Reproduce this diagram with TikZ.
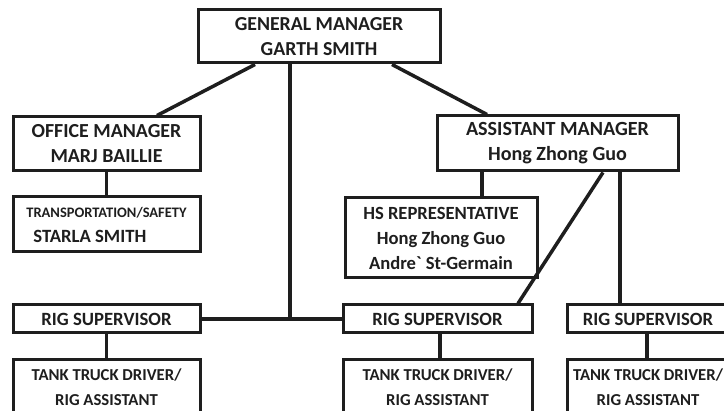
\documentclass[tikz,border=0pt]{standalone}
\usepackage{fontspec}
\setmainfont{Carlito}
\usetikzlibrary{calc}
\definecolor{ink}{HTML}{1E1E1E}
\newcommand{\fsz}[1]{\bfseries\fontsize{#1}{25}\selectfont}
\begin{document}
\begin{tikzpicture}[x=1pt,y=-1pt,
  box/.style={draw=ink, line width=3pt, inner sep=0pt, align=center, text=ink,
    font=\fsz{20}},
  link/.style={draw=ink, line width=3.5pt}]
\fill[white] (0,0) rectangle (724,411);
\useasboundingbox (0,0) rectangle (724,411);
% boxes
\node[box, minimum width=242pt, minimum height=53pt, font=\fsz{19.8}] (gm) at (319,36.5) {GENERAL MANAGER\\GARTH SMITH};
\node[box, minimum width=187pt, minimum height=54pt, font=\fsz{19.9}] (om) at (106.5,144) {OFFICE MANAGER\\MARJ BAILLIE};
\node[box, minimum width=187pt, minimum height=55pt, align=left, font=\fsz{14.5}] (ts) at (106.5,224.5) {TRANSPORTATION/SAFETY\\\hspace*{7pt}{\fsz{18.7}STARLA SMITH}};
\node[box, minimum width=241pt, minimum height=55pt, font=\fsz{20.1}] (am) at (557.5,143.5) {ASSISTANT MANAGER\\Hong Zhong Guo};
\node[box, minimum width=192pt, minimum height=80pt, font=\fsz{18.6}] (hs) at (441,238) {HS REPRESENTATIVE\\Hong Zhong Guo\\Andre\textasciigrave{} St-Germain};
\node[box, minimum width=187pt, minimum height=28pt, font=\fsz{18.7}] (rs1) at (106.5,319) {RIG SUPERVISOR};
\node[box, minimum width=189pt, minimum height=28pt, font=\fsz{18.7}] (rs2) at (437.5,319) {RIG SUPERVISOR};
\node[box, minimum width=162pt, minimum height=28pt, font=\fsz{18.7}] (rs3) at (648,319) {RIG SUPERVISOR};
\node[box, minimum width=187pt, minimum height=55pt, anchor=north, font=\fsz{16.7}] (t1) at (106.5,358) {TANK TRUCK DRIVER/\\RIG ASSISTANT};
\node[box, minimum width=189pt, minimum height=55pt, anchor=north, font=\fsz{16.7}] (t2) at (437.5,358) {TANK TRUCK DRIVER/\\RIG ASSISTANT};
\node[box, minimum width=162pt, minimum height=55pt, anchor=north, font=\fsz{16.7}] (t3) at (648,358) {TANK TRUCK DRIVER/\\RIG ASSISTANT};
% connectors
\draw[link] ([xshift=-64pt]gm.south) -- ([xshift=50.5pt]om.north);
\draw[link] ([xshift=73pt]gm.south) -- ([xshift=-70.5pt]am.north);
\draw[link] (rs1.east) -- (rs2.west);
\draw[link] ([xshift=-29pt]gm.south) -- ([xshift=-29pt]gm.south |- rs1.east);
\draw[link] (om.south) -- (ts.north);
\draw[link] ([xshift=-75.5pt]am.south) -- ([xshift=-75.5pt]am.south |- hs.north);
\draw[link] ([xshift=45.5pt]am.south) -- ([xshift=80.5pt]rs2.north);
\draw[link] ([xshift=62.5pt]am.south) -- ([xshift=62.5pt]am.south |- rs3.north);
\draw[link] (rs1.south) -- (t1.north);
\draw[link] ([xshift=2.5pt]rs2.south) -- ([xshift=2.5pt]rs2.south |- t2.north);
\draw[link] ([xshift=-1pt]rs3.south) -- ([xshift=-1pt]rs3.south |- t3.north);
\end{tikzpicture}
\end{document}
